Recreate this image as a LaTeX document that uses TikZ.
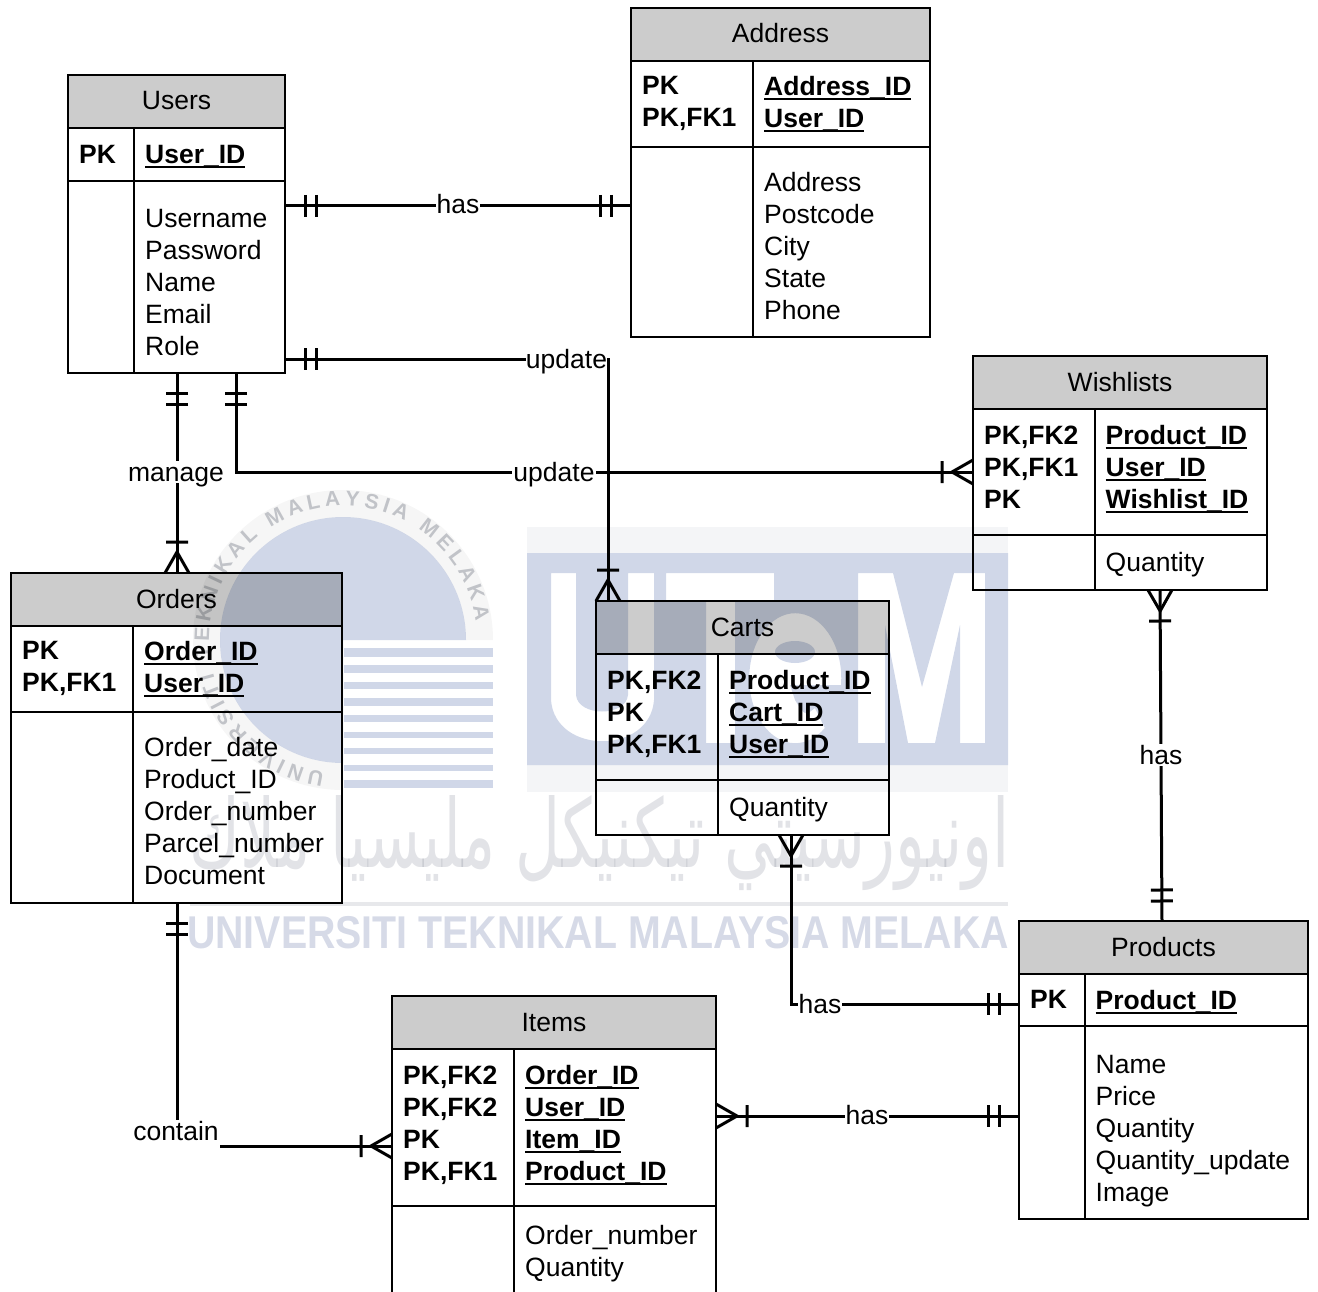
\documentclass[tikz,border=0pt]{standalone}
\usepackage{fontspec}
\setmainfont{Liberation Sans}
\newfontfamily\arabicfont[Script=Arabic]{DejaVu Sans}
\TeXXeTstate=1
\usetikzlibrary{fit,decorations.markings,decorations.text}
\definecolor{titlegrey}{HTML}{CCCCCC}
\definecolor{markblue}{HTML}{D0D7E8}
\definecolor{markpale}{HTML}{F4F5F7}
\definecolor{markring}{HTML}{F6F6F6}
\definecolor{markgrey}{HTML}{C9CBD0}
\definecolor{markjawi}{HTML}{E2E3E7}
\definecolor{marktext}{HTML}{D6DAE7}
\newcommand{\keyname}[1]{\setbox0=\hbox{#1}\rlap{\rule[-4.5pt]{\wd0}{2.6pt}}\box0}
% name, left, top, right, bottom, title bottom, key bottom, column, title
\newcommand{\ertable}[9]{
	\node[tablebox,fit={(#2,#3)(#4,#5)}] (#1) {};
	\node[titlecell,fit={(#2,#3)(#4,#6)}] (#1Head) {};
	\node[titletext] (#1Title) at (#1Head.center) {#9};
	\draw[tableline] (#2,#7) -- (#4,#7);
	\draw[tableline] (#8,#6) -- (#8,#5);
}
\tikzset{
	tablebox/.style={draw,line width=2pt,inner sep=0pt,outer sep=0pt},
	titlecell/.style={draw,fill=titlegrey,line width=2pt,inner sep=0pt,outer sep=0pt},
	titletext/.style={inner sep=0pt,text height=17pt,text depth=0pt},
	tableline/.style={line width=2pt},
	pkcell/.style={anchor=north west,inner sep=0pt,align=left,font=\erfont\bfseries},
	attrcell/.style={anchor=north west,inner sep=0pt,align=left},
	relation/.style={line width=3pt},
	rellabel/.style={fill=white,inner sep=1pt,text height=19pt,text depth=1pt},
	footline/.style={line width=3pt},
	dblstart/.style={postaction={decorate,decoration={markings,
		mark=at position 20pt with {\draw[footline] (0,-11) -- (0,11);},
		mark=at position 31pt with {\draw[footline] (0,-11) -- (0,11);}}}},
	dblend/.style={postaction={decorate,decoration={markings,
		mark=at position -31pt with {\draw[footline] (0,-11) -- (0,11);},
		mark=at position -20pt with {\draw[footline] (0,-11) -- (0,11);}}}},
	crowstart/.style={postaction={decorate,decoration={markings,
		mark=at position 21pt with {\draw[footline] (-21,-12) -- (0,0) -- (-21,12) (10,-11) -- (10,11);}}}},
	crowend/.style={postaction={decorate,decoration={markings,
		mark=at position -21pt with {\draw[footline] (21,-12) -- (0,0) -- (21,12) (-10,-11) -- (-10,11);}}}},
}
\newcommand{\erfont}{\fontsize{26.5}{32}\selectfont}
\begin{document}
\begin{tikzpicture}[x=1pt,y=-1pt,font=\erfont]
	\clip[use as bounding box] (0,0) rectangle (1318,1292);
	% tables
	\ertable{users}{68}{75}{285}{373}{128}{181}{134}{Users}
	\node[pkcell] (usersPk) at (79,145.5) {PK};
	\node[pkcell] (usersKeys) at (145,145.5) {\keyname{User\_ID}};
	\node[attrcell] (usersAttrs) at (145,209.5) {Username\\Password\\Name\\Email\\Role};
	\ertable{address}{631}{8}{930}{337}{61}{147}{753}{Address}
	\node[pkcell] (addressPk) at (642,76.5) {PK\\PK,FK1};
	\node[pkcell] (addressKeys) at (764,76.5) {\keyname{Address\_ID}\\\keyname{User\_ID}};
	\node[attrcell] (addressAttrs) at (764,172.5) {Address\\Postcode\\City\\State\\Phone};
	\ertable{wishlists}{973}{356}{1267}{590}{409}{535}{1095}{Wishlists}
	\node[pkcell] (wishlistsPk) at (984,425.5) {PK,FK2\\PK,FK1\\PK};
	\node[pkcell] (wishlistsKeys) at (1105.5,425.5) {\keyname{Product\_ID}\\\keyname{User\_ID}\\\keyname{Wishlist\_ID}};
	\node[attrcell] (wishlistsAttrs) at (1105.5,552.5) {Quantity};
	\ertable{orders}{11}{573}{342}{903}{626}{712}{133}{Orders}
	\node[pkcell] (ordersPk) at (22,641.5) {PK\\PK,FK1};
	\node[pkcell] (ordersKeys) at (144,641.5) {\keyname{Order\_ID}\\\keyname{User\_ID}};
	\node[attrcell] (ordersAttrs) at (144,737.5) {Order\_date\\Product\_ID\\Order\_number\\Parcel\_number\\Document};
	\ertable{carts}{596}{601}{889}{835}{654}{780}{718}{Carts}
	\node[pkcell] (cartsPk) at (607,670.5) {PK,FK2\\PK\\PK,FK1};
	\node[pkcell] (cartsKeys) at (729,670.5) {\keyname{Product\_ID}\\\keyname{Cart\_ID}\\\keyname{User\_ID}};
	\node[attrcell] (cartsAttrs) at (729,797.5) {Quantity};
	\ertable{items}{392}{996}{716}{1300}{1049}{1206}{514}{Items}
	\node[pkcell] (itemsPk) at (403,1065.5) {PK,FK2\\PK,FK2\\PK\\PK,FK1};
	\node[pkcell] (itemsKeys) at (525,1065.5) {\keyname{Order\_ID}\\\keyname{User\_ID}\\\keyname{Item\_ID}\\\keyname{Product\_ID}};
	\node[attrcell] (itemsAttrs) at (525,1225.5) {Order\_number\\Quantity};
	\ertable{products}{1019}{921}{1308}{1219}{974}{1026}{1085}{Products}
	\node[pkcell] (productsPk) at (1030,990.5) {PK};
	\node[pkcell] (productsKeys) at (1095.5,990.5) {\keyname{Product\_ID}};
	\node[attrcell] (productsAttrs) at (1095.5,1055) {Name\\Price\\Quantity\\Quantity\_update\\Image};
	% relations
	\draw[relation,dblstart,dblend] (users.east |- 0,206) -- (address.west |- 0,206);
	\draw[relation,dblstart,crowend] (users.east |- 0,359) -| (608,0 |- carts.north);
	\draw[relation,dblstart,crowend] (236,0 |- users.south) |- (wishlists.west |- 0,472);
	\draw[relation,dblstart,crowend] (177,0 |- users.south) -- (177,0 |- orders.north);
	\draw[relation,dblstart,crowend] (177,0 |- orders.south) |- (items.west |- 0,1146);
	\draw[relation,crowstart,dblend] (1160,0 |- wishlists.south) -- (1162,0 |- products.north);
	\draw[relation,crowstart,dblend] (791,0 |- carts.south) |- (products.west |- 0,1004);
	\draw[relation,crowstart,dblend] (items.east |- 0,1116) -- (products.west |- 0,1116);
	% labels
	\node[rellabel] (hasAddress) at (458,205) {has};
	\node[rellabel,inner xsep=0pt] (updateCarts) at (566.5,359) {update};
	\node[rellabel] (updateWishlists) at (554,472) {update};
	\node[rellabel] (manageOrders) at (176,472) {manage};
	\node[rellabel,text depth=8pt] (containItems) at (176,1134.5) {contain};
	\node[rellabel] (hasWishlists) at (1161,755) {has};
	\node[rellabel] (hasCarts) at (820,1004) {has};
	\node[rellabel] (hasItems) at (867,1115) {has};
	% watermark
	\begin{scope}[blend mode=multiply]
		\fill[markring] (343,640) ++(0:150) arc[start angle=0,end angle=-270,radius=150]
			-- (343,763) arc[start angle=90,end angle=360,radius=123] -- cycle;
		\fill[markblue] (343,640) ++(0:123) arc[start angle=0,end angle=-270,radius=123] -- (343,640) -- cycle;
		\foreach \ya/\yb in {648/657,665/673,682/689,698/706,715/722,732/738,748/754,765/771,780/788}
			\fill[markblue] (343.5,\ya) rectangle (493,\yb);
		\path[decorate,decoration={text along path,text align={fit to path},
			text={|\fontsize{21}{21}\selectfont\bfseries\color{markgrey}|UNIVERSITI TEKNIKAL MALAYSIA MELAKA}}]
			(343,640) ++(98:134) arc[start angle=98,end angle=352,radius=134];
		\fill[markpale] (527,527) rectangle (1008,553);
		\fill[markpale] (527,765) rectangle (1008,792);
		% block with the letters cut out
		\fill[markblue,even odd rule] (527,553) rectangle (1008,765)
			(551,573) -- (576,573) -- (576,695) .. controls (578,717) and (626,717) .. (628,695) -- (628,573) -- (654,573) -- (654,700)
				.. controls (650,755) and (555,755) .. (551,700) -- cycle
			(666,573) -- (774,573) -- (774,600) -- (735,600) -- (735,743) -- (706,743) -- (706,600) -- (666,600) -- cycle
			(841,685) arc[start angle=6,end angle=-310,x radius=46,y radius=65] -- (815,708) .. controls (805,716) .. (795,700) -- (790,685) -- cycle
			(815,652) arc[start angle=0,end angle=360,x radius=20,y radius=11] -- cycle
			(858,573) -- (893,573) -- (922,687) -- (954,573) -- (985,573) -- (985,743) -- (960,743) -- (960,625)
				-- (935,743) -- (908,743) -- (885,625) -- (885,743) -- (858,743) -- cycle;
		\node[inner sep=0pt,text=markjawi] (markJawi) at (600,843)
			{\resizebox{820pt}{72pt}{\arabicfont\beginR اونيورسيتي تيكنيكل مليسيا ملاك\endR}};
		\fill[markpale!70!markgrey] (190,902) rectangle (1008,906);
		\node[inner sep=0pt,text=marktext] (markName) at (598,933)
			{\scalebox{1}[1.17]{\fontsize{39.3}{39.3}\selectfont\bfseries UNIVERSITI TEKNIKAL MALAYSIA MELAKA}};
	\end{scope}
\end{tikzpicture}
\end{document}
